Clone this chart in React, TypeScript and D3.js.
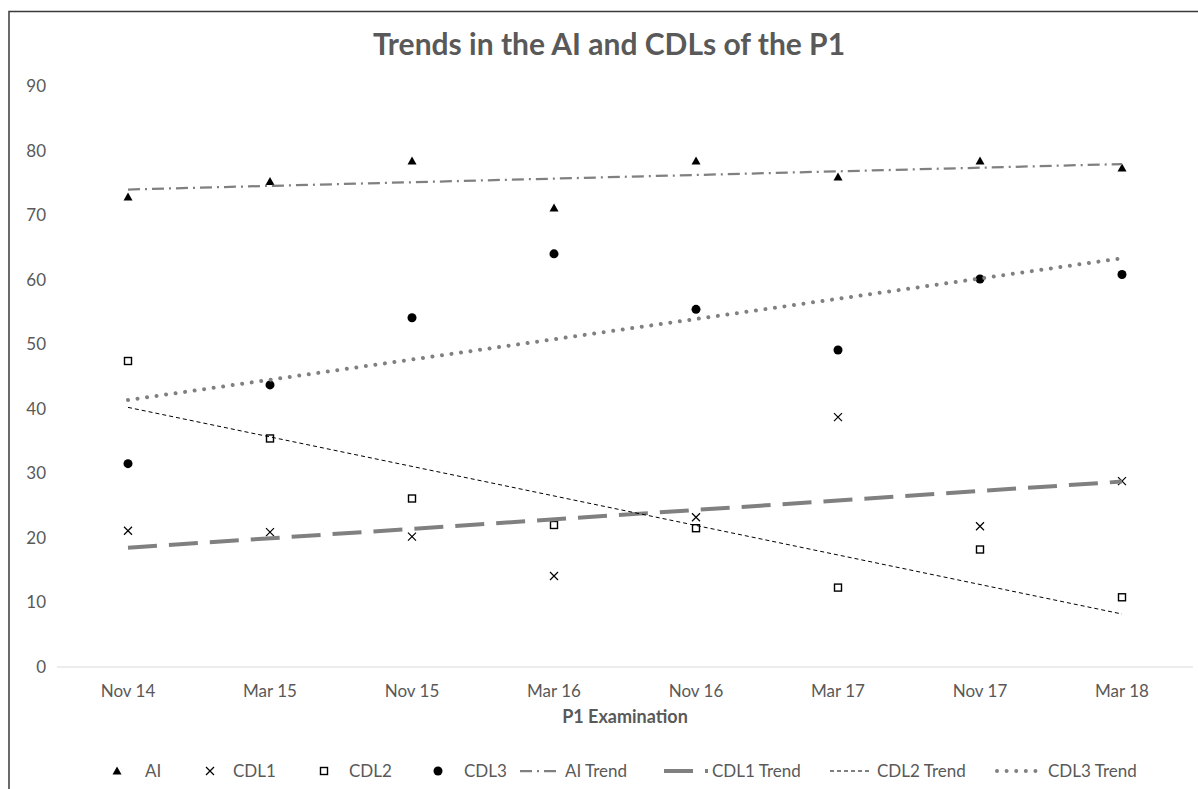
import React from 'react'
import * as d3 from 'd3'

// exam sessions
const sessions = ['Nov 14', 'Mar 15', 'Nov 15', 'Mar 16', 'Nov 16', 'Mar 17', 'Nov 17', 'Mar 18']

// values
const aiValues = [72.8, 75.2, 78.4, 71.1, 78.4, 75.9, 78.4, 77.3]
const cdl1Values = [21.1, 20.9, 20.2, 14.1, 23.2, 38.7, 21.8, 28.8]
const cdl2Values = [47.4, 35.4, 26.1, 22.0, 21.5, 12.3, 18.2, 10.8]
const cdl3Values = [31.5, 43.7, 54.1, 64.0, 55.4, 49.1, 60.1, 60.8]

const yTicks = [0, 10, 20, 30, 40, 50, 60, 70, 80, 90]

const legendLabels = ['AI', 'CDL1', 'CDL2', 'CDL3', 'AI Trend', 'CDL1 Trend', 'CDL2 Trend', 'CDL3 Trend']
// legend layout (symbol start/end, text x)
const legendSymbolX = [[117, 117], [210, 210], [324, 324], [438, 438], [520, 560], [664, 708], [830, 872], [997, 1044]]
const legendTextX = [145, 233, 349, 464, 565, 712, 877, 1048]

const TEXT = '#595959'
const GREY = '#808080'
const FONT = 'Lato, "Open Sans", sans-serif'

// least squares fit against session index 1..n
const fit = (vals: number[]) => {
  const xs = vals.map((_, i) => i + 1)
  const mx = d3.mean(xs) as number
  const my = d3.mean(vals) as number
  const sxy = d3.sum(vals, (v, i) => (xs[i] - mx) * (v - my))
  const sxx = d3.sum(xs, x => (x - mx) * (x - mx))
  const slope = sxy / sxx
  return (x: number) => my + slope * (x - mx)
}

const trendStyles = [
  { stroke: GREY, width: 2.25, dash: '12 5 2 5', cap: 'butt' },
  { stroke: GREY, width: 4, dash: '29 12', cap: 'butt' },
  { stroke: '#000', width: 1, dash: '4 3', cap: 'butt' },
  { stroke: GREY, width: 4, dash: '0.01 9.6', cap: 'round' }
]

const Marker = ({ kind, x, y }: { kind: number; x: number; y: number }) => {
  if (kind === 0) {
    const p = d3.path()
    p.moveTo(x, y - 4.5)
    p.lineTo(x + 4.5, y + 3.5)
    p.lineTo(x - 4.5, y + 3.5)
    p.closePath()
    return <path d={p.toString()} fill="#000" />
  }
  if (kind === 1) {
    return (
      <path
        d={`M${x - 4},${y - 4}L${x + 4},${y + 4}M${x - 4},${y + 4}L${x + 4},${y - 4}`}
        stroke="#000"
        strokeWidth={1.2}
        fill="none"
      />
    )
  }
  if (kind === 2) {
    return <rect x={x - 3.5} y={y - 3.5} width={7} height={7} fill="#fff" stroke="#000" strokeWidth={1.4} />
  }
  return <circle cx={x} cy={y} r={4.5} fill="#000" />
}

export default function App() {
  const series = [aiValues, cdl1Values, cdl2Values, cdl3Values]

  const x = d3.scaleBand().domain(sessions).range([57, 1193])
  const cx = (s: string) => (x(s) as number) + x.bandwidth() / 2
  const y = d3.scaleLinear().domain([0, 90]).range([667, 86])

  const trendPaths = series.map(vals => {
    const f = fit(vals)
    const ends = [0, sessions.length - 1]
    return d3
      .line<number>()
      .x(i => cx(sessions[i]))
      .y(i => y(f(i + 1)))(ends) as string
  })

  return (
    <svg
      width={1198}
      height={789}
      style={{ position: 'absolute', left: 0, top: 0, fontFamily: FONT }}
    >
      <rect x={0} y={0} width={1198} height={789} fill="#fff" />
      <rect x={9} y={11.5} width={1400} height={1000} fill="none" stroke="#3a3a3a" strokeWidth={1.5} />

      <text x={609} y={55} textAnchor="middle" fontSize={30} fontWeight="bold" fill={TEXT}>
        Trends in the AI and CDLs of the P1
      </text>

      {/* y axis labels */}
      {yTicks.map(t => (
        <text key={t} x={46} y={y(t)} dy="0.35em" textAnchor="end" fontSize={17} fill={TEXT}>
          {t}
        </text>
      ))}

      {/* x axis */}
      <line x1={57} x2={1193} y1={y(0)} y2={y(0)} stroke="#d9d9d9" strokeWidth={1} />
      {sessions.map(s => (
        <text key={s} x={cx(s)} y={691} dy="0.35em" textAnchor="middle" fontSize={17} fill={TEXT}>
          {s}
        </text>
      ))}
      <text x={625} y={717} dy="0.35em" textAnchor="middle" fontSize={18} fontWeight="bold" fill={TEXT}>
        P1 Examination
      </text>

      {/* points */}
      {series.map((vals, k) => (
        <g key={k}>
          {vals.map((v, i) => (
            <Marker key={i} kind={k} x={cx(sessions[i])} y={y(v)} />
          ))}
        </g>
      ))}

      {/* trend lines */}
      {trendPaths.map((d, k) => (
        <path
          key={k}
          d={d}
          fill="none"
          stroke={trendStyles[k].stroke}
          strokeWidth={trendStyles[k].width}
          strokeDasharray={trendStyles[k].dash}
          strokeLinecap={trendStyles[k].cap as any}
        />
      ))}

      {/* legend */}
      {legendLabels.map((lab, k) => {
        const [a, b] = legendSymbolX[k]
        const ly = 771
        return (
          <g key={lab}>
            {k < 4 ? (
              <Marker kind={k} x={a} y={ly} />
            ) : (
              <line
                x1={a}
                x2={b}
                y1={ly}
                y2={ly}
                stroke={trendStyles[k - 4].stroke}
                strokeWidth={trendStyles[k - 4].width}
                strokeDasharray={trendStyles[k - 4].dash}
                strokeLinecap={trendStyles[k - 4].cap as any}
              />
            )}
            <text x={legendTextX[k]} y={ly} dy="0.35em" fontSize={17} fill={TEXT}>
              {lab}
            </text>
          </g>
        )
      })}
    </svg>
  )
}
